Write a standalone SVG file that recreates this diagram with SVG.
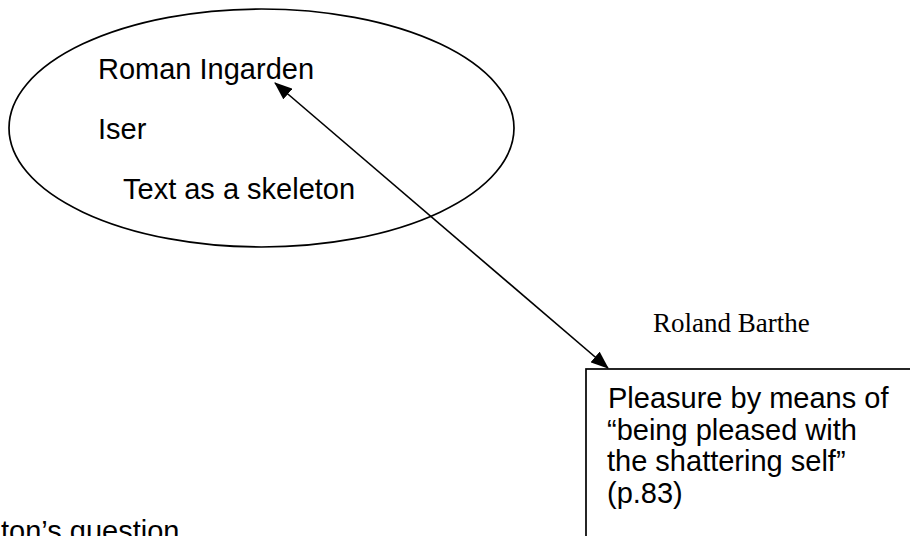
<svg xmlns="http://www.w3.org/2000/svg" width="910" height="536" viewBox="0 0 910 536">
  <defs>
    <style>
      .sans { font-family: "Liberation Sans", Arial, sans-serif; font-size: 29px; fill: #000; }
      .serif { font-family: "Liberation Serif", "Times New Roman", serif; font-size: 27px; fill: #000; }
      .shape { fill: #fff; stroke: #000; stroke-width: 1.7; }
      .link { fill: none; stroke: #000; stroke-width: 1.6; }
    </style>
    <marker id="head" viewBox="0 0 18 14" refX="17" refY="7" markerWidth="18" markerHeight="14" markerUnits="userSpaceOnUse" orient="auto-start-reverse">
      <path d="M0,0 L18,7 L0,14 z" fill="#000"/>
    </marker>
  </defs>
  <rect width="910" height="536" fill="#fff"/>

  <!-- reader-response theorists -->
  <g id="theorists">
    <ellipse class="shape" cx="261.5" cy="128" rx="252.5" ry="119"/>
    <text class="sans" x="98" y="79">Roman Ingarden</text>
    <text class="sans" x="98" y="139">Iser</text>
    <text class="sans" x="123" y="199">Text as a skeleton</text>
  </g>

  <!-- Barthe -->
  <g id="barthe">
    <text class="serif" x="653" y="332">Roland Barthe</text>
    <rect class="shape" x="586" y="369" width="340" height="200"/>
    <text class="sans" x="608" y="408">Pleasure by means of</text>
    <text class="sans" x="607" y="440">“being pleased with</text>
    <text class="sans" x="607" y="471">the shattering self”</text>
    <text class="sans" x="607" y="503">(p.83)</text>
  </g>

  <!-- question at the page foot -->
  <g id="question">
    <text class="sans" x="1" y="541">ton’s question</text>
  </g>

  <g id="connectors">
    <line class="link" x1="275" y1="83" x2="608" y2="368" marker-start="url(#head)" marker-end="url(#head)"/>
  </g>
</svg>
